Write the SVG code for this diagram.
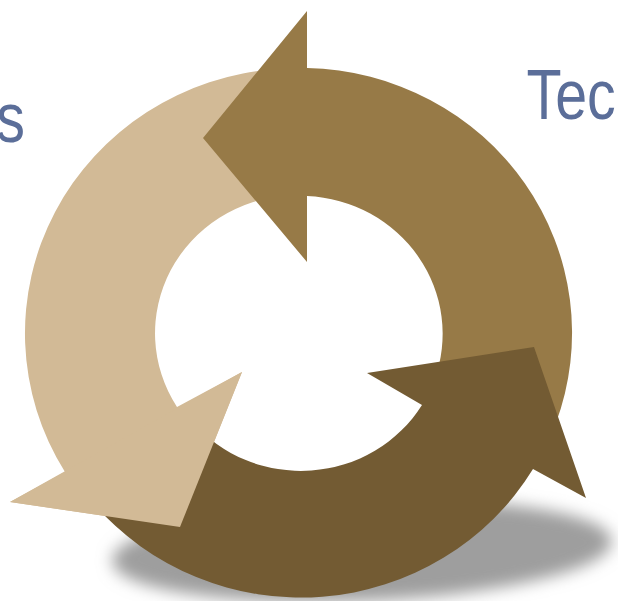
<svg xmlns="http://www.w3.org/2000/svg" width="618" height="601" viewBox="0 0 618 601">
  <defs>
    <filter id="blur" x="-20%" y="-50%" width="140%" height="200%">
      <feGaussianBlur stdDeviation="8"/>
    </filter>
  </defs>
  <style>
    .label { font-family: "Liberation Sans", Arial, sans-serif; font-size: 70px; fill: #5B6E99; }
    .tan { fill: #D2BA96; }
    .medium { fill: #977A47; }
    .dark { fill: #735B33; }
  </style>
  <rect width="618" height="601" fill="#FFFFFF"/>
  <ellipse id="shadow" cx="362" cy="551" rx="250" ry="50" transform="rotate(-2.3 362 551)" fill="#9E9E9E" filter="url(#blur)"/>
  <g id="labels">
    <text class="label" text-anchor="end" transform="translate(25,142) scale(0.82,1)">s</text>
    <text class="label" transform="translate(526.5,119) scale(0.82,1)">Tec</text>
  </g>
  <g id="connectors">
    <g id="arrow-tan">
      <path class="tan" d="M288.6,195.5 A142,138 0 0 0 177,407 L242,372 L180,527 L10,502 L65,472 A271,265 0 0 1 277.4,69 Z"/>
    </g>
    <g id="arrow-medium">
      <path class="medium" d="M307,11 L203,138 L307,262 L307,196 A142,138 0 0 1 434.4,380.2 L555.7,423.6 A271,265 0 0 0 307,68 Z"/>
    </g>
    <g id="arrow-dark">
      <path class="dark" d="M192.2,421.7 A142,138 0 0 0 422,405 L367,373 L534,347 L586,498 L533,469 A271,265 0 0 1 93.4,503.3 Z"/>
    </g>
    <g id="arrow-tan-head">
      <path class="tan" d="M242,372 L180,527 L10,502 Z"/>
    </g>
  </g>
</svg>
